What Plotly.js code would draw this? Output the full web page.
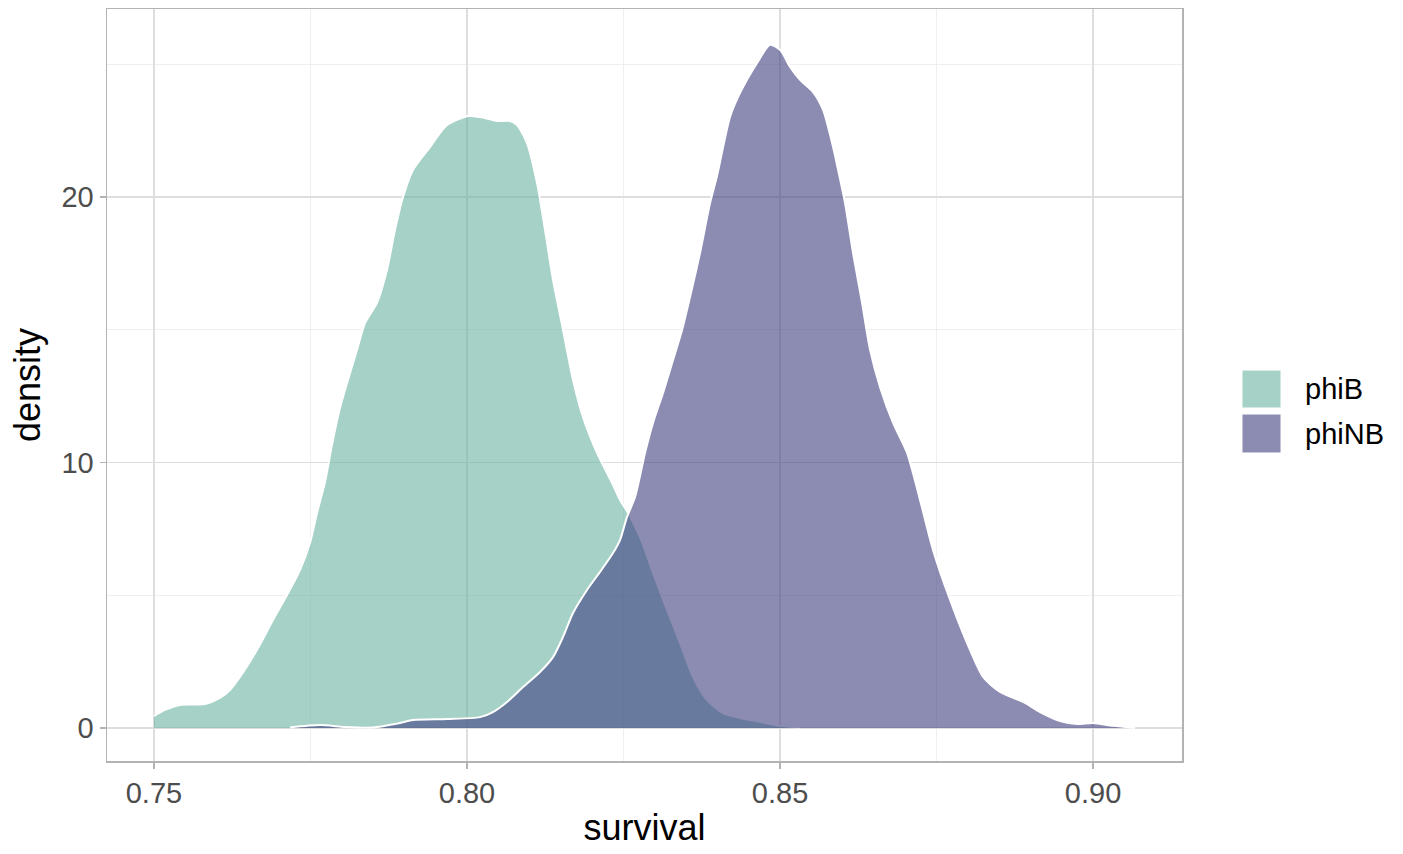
<!DOCTYPE html>
<html>
<head>
<meta charset="utf-8">
<script src="https://cdn.plot.ly/plotly-3.0.1.min.js"></script>
<style>html,body{margin:0;padding:0;background:#fff;}#chart{width:1403px;height:854px;}</style>
</head>
<body>
<div id="chart"></div>
<script>
// Series names
const seriesNames = ["phiB", "phiNB"];

// phiB density curve (survival, density)
const phiB_x = [0.7500,0.75176,0.75415,0.75815,0.76054,0.76214,0.76374,0.76645,0.76901,0.77125,0.77332,0.77492,0.77604,0.77732,0.77843,0.77971,0.78099,0.78243,0.78371,0.78562,0.78722,0.78850,0.78978,0.79137,0.79409,0.79681,0.80016,0.80208,0.80479,0.80687,0.80799,0.80958,0.81118,0.81246,0.81374,0.81534,0.81693,0.81853,0.82077,0.82316,0.82444,0.82572,0.82764,0.82971,0.83195,0.83403,0.83610,0.83834,0.84089,0.84361,0.84681,0.85000,0.85319];
const phiB_y = [0.45,0.68,0.87,0.90,1.13,1.43,1.92,2.94,4.07,5.01,5.95,6.97,8.10,9.26,10.66,12.05,13.11,14.24,15.25,16.01,17.25,18.76,20.00,21.02,21.88,22.71,23.05,23.01,22.86,22.86,22.71,22.03,20.53,18.76,16.87,14.99,13.11,11.71,10.36,9.23,8.59,8.10,7.19,5.84,4.44,3.20,1.92,1.05,0.56,0.38,0.23,0.08,0.02];

// phiNB density curve (survival, density)
const phiNB_x = [0.77173,0.77652,0.78051,0.78498,0.78930,0.79137,0.79681,0.80208,0.80415,0.80639,0.80895,0.81166,0.81374,0.81534,0.81693,0.81917,0.82125,0.82332,0.82444,0.82556,0.82684,0.82843,0.82971,0.83131,0.83291,0.83435,0.83562,0.83722,0.83882,0.83994,0.84201,0.84361,0.84633,0.84840,0.85000,0.85160,0.85319,0.85527,0.85687,0.85847,0.85927,0.86038,0.86166,0.86310,0.86438,0.86597,0.86805,0.87029,0.87236,0.87444,0.87716,0.87987,0.88243,0.88514,0.88882,0.89153,0.89473,0.89744,0.90000,0.90319,0.90671];
const phiNB_y = [0.02,0.11,0.04,0.02,0.19,0.30,0.34,0.41,0.60,0.98,1.54,2.11,2.67,3.43,4.33,5.20,5.88,6.59,7.08,7.95,8.70,10.36,11.49,12.62,13.86,14.99,16.23,17.89,19.77,20.80,23.01,23.92,25.05,25.73,25.54,24.90,24.41,23.95,23.28,21.88,21.02,19.77,17.89,16.01,14.24,12.84,11.49,10.36,8.59,6.70,4.82,3.20,1.92,1.36,0.98,0.60,0.26,0.15,0.19,0.08,0.00];

// Axis ticks
const xTicks = [0.75, 0.80, 0.85, 0.90];
const xTickLabels = ["0.75", "0.80", "0.85", "0.90"];
const yTicks = [0, 10, 20];
const yTickLabels = ["0", "10", "20"];

const fills = ["rgba(105,179,162,0.6)", "rgba(64,64,128,0.6)"];
const FONT = "Liberation Sans, Arial, Helvetica, sans-serif";

const traces = [
  {x: phiB_x, y: phiB_y, name: seriesNames[0]},
  {x: phiNB_x, y: phiNB_y, name: seriesNames[1]}
].map((t, i) => Object.assign(t, {
  type: "scatter", mode: "lines", fill: "tozeroy",
  fillcolor: fills[i],
  line: {color: "#ffffff", width: 2, shape: "spline", smoothing: 0.7},
  showlegend: false, hoverinfo: "x+y+name"
}));

// manual ggplot-style legend
const shapes = [];
const annotations = [];
const keyY = [[0.5199, 0.4694], [0.4614, 0.4096]];
seriesNames.forEach((n, i) => {
  shapes.push({type: "rect", xref: "paper", yref: "paper", x0: 1.0558, x1: 1.0921,
    y0: keyY[i][1], y1: keyY[i][0], fillcolor: fills[i], line: {color: "#ffffff", width: 1}});
  annotations.push({xref: "paper", yref: "paper", x: 1.1126, y: (keyY[i][0] + keyY[i][1]) / 2,
    xanchor: "left", yanchor: "middle", showarrow: false, text: n,
    font: {family: FONT, size: 29, color: "#000000"}});
});

const layout = {
  width: 1403, height: 854,
  margin: {l: 107, r: 221, t: 9, b: 93, pad: 0},
  paper_bgcolor: "#ffffff", plot_bgcolor: "#ffffff",
  font: {family: FONT},
  xaxis: {
    range: [0.7425, 0.9142], tickvals: xTicks, ticktext: xTickLabels,
    showgrid: true, gridcolor: "#dedede", gridwidth: 1.3,
    minor: {dtick: 0.025, tick0: 0.75, showgrid: true, gridcolor: "#ebebeb", gridwidth: 0.8, ticks: ""},
    ticks: "outside", ticklen: 6, tickwidth: 1.3, tickcolor: "#b3b3b3",
    tickfont: {family: FONT, size: 29, color: "#4d4d4d"},
    showline: true, linecolor: "#b3b3b3", linewidth: 1.5, mirror: true,
    zeroline: false,
    title: {text: "survival", font: {family: FONT, size: 36, color: "#000000"}, standoff: 6},
    automargin: false
  },
  yaxis: {
    range: [-1.243, 27.08], tickvals: yTicks, ticktext: yTickLabels,
    showgrid: true, gridcolor: "#dedede", gridwidth: 1.3,
    minor: {dtick: 5, tick0: 0, showgrid: true, gridcolor: "#ebebeb", gridwidth: 0.8, ticks: ""},
    ticks: "outside", ticklen: 6, tickwidth: 1.3, tickcolor: "#b3b3b3",
    tickfont: {family: FONT, size: 29, color: "#4d4d4d"},
    showline: true, linecolor: "#b3b3b3", linewidth: 1.5, mirror: true,
    zeroline: false,
    title: {text: "density", font: {family: FONT, size: 36, color: "#000000"}, standoff: 10},
    automargin: false
  },
  shapes: shapes,
  annotations: annotations,
  showlegend: false
};

Plotly.newPlot("chart", traces, layout, {displayModeBar: false, staticPlot: true});
</script>
</body>
</html>
